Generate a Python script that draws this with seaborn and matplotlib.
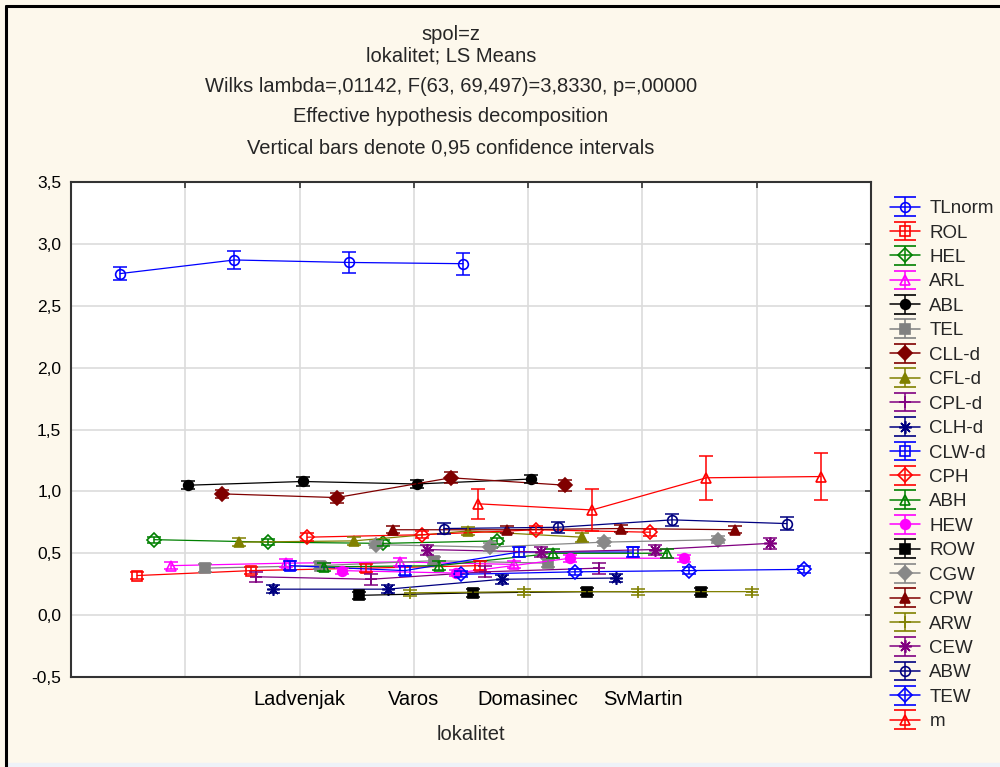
import numpy as np
import pandas as pd
import matplotlib
matplotlib.use("Agg")
import matplotlib.pyplot as plt
from matplotlib.lines import Line2D
from matplotlib.patches import Rectangle
import seaborn as sns

# lokalitet levels (x axis)
lokalitet = ["Ladvenjak", "Varos", "Domasinec", "SvMartin"]

series = ["TLnorm", "ROL", "HEL", "ARL", "ABL", "TEL", "CLL-d", "CFL-d",
          "CPL-d", "CLH-d", "CLW-d", "CPH", "ABH", "HEW", "ROW", "CGW",
          "CPW", "ARW", "CEW", "ABW", "TEW", "m"]

# LS means, one row per dependent variable
means = [
    [2.76, 2.87, 2.85, 2.84],   # TLnorm
    [0.32, 0.36, 0.38, 0.40],   # ROL
    [0.61, 0.59, 0.58, 0.60],   # HEL
    [0.40, 0.42, 0.43, 0.41],   # ARL
    [1.05, 1.08, 1.06, 1.10],   # ABL
    [0.38, 0.40, 0.44, 0.42],   # TEL
    [0.98, 0.95, 1.11, 1.05],   # CLL-d
    [0.59, 0.60, 0.68, 0.63],   # CFL-d
    [0.31, 0.29, 0.35, 0.38],   # CPL-d
    [0.21, 0.21, 0.29, 0.30],   # CLH-d
    [0.40, 0.36, 0.51, 0.51],   # CLW-d
    [0.63, 0.65, 0.69, 0.67],   # CPH
    [0.39, 0.40, 0.50, 0.50],   # ABH
    [0.36, 0.34, 0.46, 0.46],   # HEW
    [0.16, 0.18, 0.19, 0.19],   # ROW
    [0.57, 0.55, 0.59, 0.61],   # CGW
    [0.69, 0.69, 0.70, 0.69],   # CPW
    [0.18, 0.19, 0.19, 0.19],   # ARW
    [0.53, 0.51, 0.53, 0.58],   # CEW
    [0.70, 0.71, 0.77, 0.74],   # ABW
    [0.33, 0.35, 0.36, 0.37],   # TEW
    [0.90, 0.85, 1.11, 1.12],   # m
]

# half width of the 0,95 confidence intervals
ci_half = [
    [0.055, 0.075, 0.085, 0.09],
    [0.03, 0.03, 0.03, 0.035],
    [0.025, 0.025, 0.025, 0.025],
    [0.03, 0.03, 0.03, 0.03],
    [0.03, 0.035, 0.035, 0.035],
    [0.03, 0.03, 0.03, 0.03],
    [0.035, 0.04, 0.045, 0.045],
    [0.03, 0.03, 0.035, 0.035],
    [0.04, 0.045, 0.045, 0.045],
    [0.035, 0.035, 0.035, 0.035],
    [0.035, 0.035, 0.04, 0.04],
    [0.03, 0.03, 0.03, 0.03],
    [0.035, 0.035, 0.035, 0.035],
    [0.025, 0.025, 0.03, 0.03],
    [0.03, 0.03, 0.03, 0.03],
    [0.03, 0.03, 0.03, 0.03],
    [0.03, 0.03, 0.03, 0.03],
    [0.025, 0.025, 0.025, 0.025],
    [0.04, 0.04, 0.04, 0.045],
    [0.045, 0.045, 0.05, 0.05],
    [0.025, 0.025, 0.03, 0.03],
    [0.12, 0.17, 0.18, 0.19],
]

yticks = [-0.5, 0.0, 0.5, 1.0, 1.5, 2.0, 2.5, 3.0, 3.5]
ytick_labels = ["-0,5", "0,0", "0,5", "1,0", "1,5", "2,0", "2,5", "3,0", "3,5"]

title_lines = [
    "spol=z",
    "lokalitet; LS Means",
    "Wilks lambda=,01142, F(63, 69,497)=3,8330, p=,00000",
    "Effective hypothesis decomposition",
    "Vertical bars denote 0,95 confidence intervals",
]

# styles (Statistica palette)
colors = ["#0000ff", "#ff0000", "#008000", "#ff00ff", "#000000", "#808080",
          "#800000", "#808000", "#800080", "#000080", "#0000ff", "#ff0000",
          "#008000", "#ff00ff", "#000000", "#888888", "#800000", "#808000",
          "#800080", "#000080", "#0000ff", "#ff0000"]
star = (8, 2, 0)
markers = ["o", "s", "D", "^", "o", "s", "D", "^", "+", star, "s", "D",
           "^", "o", "s", "D", "^", "+", star, "o", "D", "^"]
filled = [False, False, False, False, True, True, True, True, True, True,
          False, False, False, True, True, True, True, True, True, False,
          False, False]

BG = "#fdf8ec"
FS_TXT = 14.5
FS_Y = 12.5
FS_LEG = 13.5

sns.set_style("white")
plt.rcParams["font.family"] = ["Liberation Sans", "DejaVu Sans"]

fig = plt.figure(figsize=(10, 7.67), dpi=100, facecolor=BG)
ax = fig.add_axes([0.071, 0.1173, 0.8, 0.6454])
ax.set_facecolor("white")

handles = []
for i, name in enumerate(series):
    c = colors[i]
    mk = markers[i]
    # each variable is shifted a little along the axis (Statistica layout)
    xpos = np.arange(len(lokalitet)) + 0.43 + 0.149 * i
    df = pd.DataFrame({"x": xpos, "y": means[i]})
    ms = 9 if mk in ("+", star) else 7
    mfc = c if filled[i] else "none"
    sns.lineplot(data=df, x="x", y="y", ax=ax, color=c, lw=0.9,
                 marker=mk, markersize=ms, markerfacecolor=mfc,
                 markeredgecolor=c, markeredgewidth=1.2, errorbar=None,
                 legend=False, zorder=3)
    ax.errorbar(xpos, means[i], yerr=ci_half[i], fmt="none", ecolor=c,
                elinewidth=1.1, capsize=5, capthick=1.1, zorder=4)
    h = ax.errorbar([np.nan], [np.nan], yerr=[0.1], color=c, lw=1.1,
                    marker=mk, markersize=ms, markerfacecolor=mfc,
                    markeredgecolor=c, markeredgewidth=1.2,
                    capsize=8, capthick=1.1)
    handles.append(h)

ax.set_xlim(0, 7)
ax.set_ylim(-0.5, 3.5)
ax.set_xticks([1, 2, 3, 4, 5, 6])
ax.set_xticklabels([""] + lokalitet + [""], fontsize=FS_TXT)
ax.set_yticks(yticks)
ax.set_yticklabels(ytick_labels, fontsize=FS_Y)
ax.grid(True, color="#dcdcdc", lw=1.2)
ax.set_axisbelow(True)
ax.tick_params(direction="in", length=4, width=1.2, top=True, right=True,
               colors="#333333", labelcolor="black")
ax.tick_params(axis="x", pad=9)
ax.tick_params(axis="y", pad=7)
for sp in ax.spines.values():
    sp.set_color("#333333")
    sp.set_linewidth(1.5)
ax.set_xlabel("lokalitet", fontsize=FS_TXT, labelpad=12)
ax.set_ylabel("")

for k, ypix in enumerate([34, 56, 87, 117, 148]):
    fig.text(0.451, 1 - ypix / 767, title_lines[k], ha="center", va="center",
             fontsize=FS_TXT)

fig.legend(handles, series, loc="upper left",
           bbox_to_anchor=(0.890, 1 - 200 / 767), frameon=False,
           fontsize=FS_LEG, labelspacing=0.39, handlelength=1.6,
           handletextpad=0.5, borderpad=0, borderaxespad=0)

# outer frame of the Statistica graph window
fig.add_artist(Line2D([0.006, 0.006], [0.0, 1 - 6 / 767], color="black",
                      lw=2.2, transform=fig.transFigure))
fig.add_artist(Line2D([0.006, 1.0], [1 - 6 / 767, 1 - 6 / 767],
                      color="black", lw=2.2, transform=fig.transFigure))
fig.add_artist(Rectangle((0.0075, 0), 1, 4 / 767, color="#eef2f8",
                         transform=fig.transFigure, zorder=0))

fig.savefig("out.png", dpi=100, facecolor=BG)
